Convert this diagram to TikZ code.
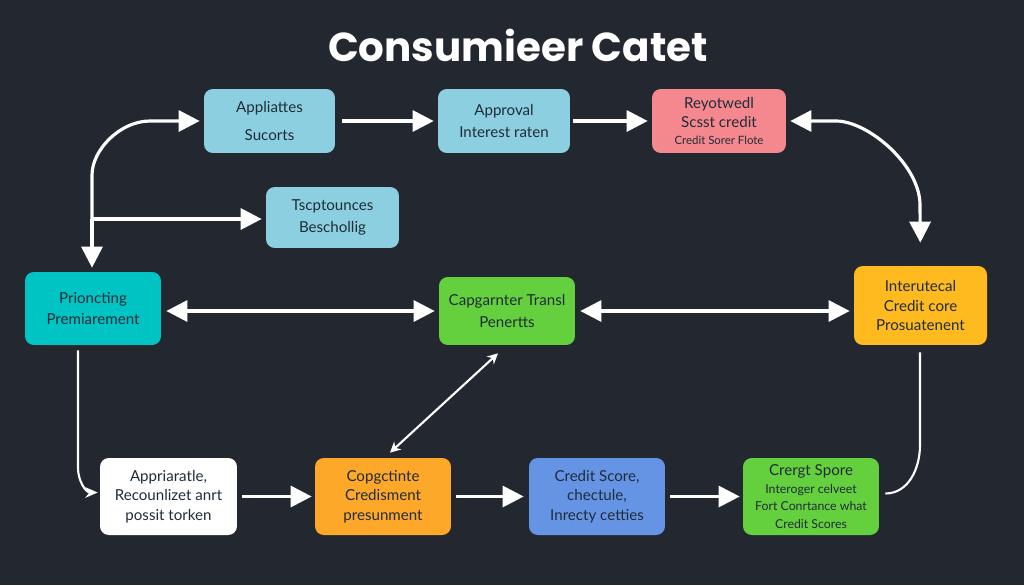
\documentclass[tikz,border=0pt]{standalone}
\usepackage{fontspec}
\setmainfont{Lato}
\newfontfamily\titlefont{Poppins}
\usepackage{tikz}
\usetikzlibrary{arrows.meta,calc}
\definecolor{bgdark}{RGB}{35,39,47}
\definecolor{skyblue}{RGB}{140,207,224}
\definecolor{rosered}{RGB}{245,136,143}
\definecolor{tealbox}{RGB}{0,195,196}
\definecolor{limebox}{RGB}{100,208,62}
\definecolor{amberbox}{RGB}{254,186,30}
\definecolor{orangebox}{RGB}{254,168,42}
\definecolor{bluebox}{RGB}{101,148,228}
\definecolor{inkdark}{RGB}{32,44,56}

\begin{document}
\begin{tikzpicture}[x=0.02cm,y=-0.02cm,
  box/.style={rounded corners=5pt, align=center, text=inkdark, minimum width=2.7cm, minimum height=1.3cm, font=\fontsize{8.6}{11}\selectfont},
  big/.style={draw=white, line width=1.8pt, -{Triangle[length=12pt,width=12pt]}},
  bigboth/.style={draw=white, line width=1.8pt, {Triangle[length=12pt,width=12pt]}-{Triangle[length=12pt,width=12pt]}},
  thin/.style={draw=white, line width=1.2pt}]
\fill[bgdark] (0,0) rectangle (1024,585);
\node[text=white, font=\titlefont\bfseries\fontsize{23}{28}\selectfont] (title) at (518,45) {Consumieer Catet};
% top row
\node[box, fill=skyblue, minimum width=2.62cm, minimum height=1.28cm] (appl) at (269.5,121) {Appliattes\\[5pt]Sucorts};
\node[box, fill=skyblue, minimum width=2.64cm, minimum height=1.28cm] (appr) at (504,121) {Approval\\[1pt]Interest raten};
\node[box, fill=rosered, minimum width=2.68cm, minimum height=1.28cm] (reyo) at (719,121) {Reyotwedl\\Scsst credit\\[-1pt]{\fontsize{6.5}{7}\selectfont Credit Sorer Flote}};
\node[box, fill=skyblue, minimum width=2.66cm, minimum height=1.22cm] (tscp) at (332.5,217.5) {Tscptounces\\[1pt]Beschollig};
% middle row
\node[box, fill=tealbox, minimum width=2.72cm, minimum height=1.46cm] (prio) at (93,308.5) {Prioncting\\[1pt]Premiarement};
\node[box, fill=limebox, minimum width=2.72cm, minimum height=1.36cm] (capg) at (507,311) {Capgarnter Transl\\[1pt]Penertts};
\node[box, fill=amberbox, minimum width=2.66cm, minimum height=1.58cm] (inte) at (920.5,305.5) {Interutecal\\Credit core\\Prosuatenent};
% bottom row
\node[box, fill=white, minimum width=2.74cm, minimum height=1.54cm] (appa) at (168.5,496.5) {Appriaratle,\\Recounlizet anrt\\possit torken};
\node[box, fill=orangebox, minimum width=2.72cm, minimum height=1.54cm] (copg) at (383,496.5) {Copgctinte\\Credisment\\presunment};
\node[box, fill=bluebox, minimum width=2.72cm, minimum height=1.54cm] (cred) at (597,496.5) {Credit Score,\\chectule,\\Inrecty cetties};
\node[box, fill=limebox, minimum width=2.72cm, minimum height=1.54cm] (crer) at (811,496.5) {Crergt Spore\\[-1pt]{\fontsize{7}{8}\selectfont Interoger celveet}\\[-1pt]{\fontsize{7}{8}\selectfont Fort Conrtance what}\\[-1pt]{\fontsize{7}{8}\selectfont Credit Scores}};
% arrows
\draw[big, shorten <=0.14cm, shorten >=0.08cm] (appl) -- (appr);
\draw[big, shorten <=0.06cm, shorten >=0.08cm] (appr) -- (reyo);
\coordinate (junc) at (92,219);
\draw[big, shorten >=0.08cm] (junc) -- (92,175) .. controls (92,150) and (120,121) .. (150,121) -- (appl.west);
\draw[big, shorten >=0.08cm] (junc) -- (tscp.west |- junc);
\draw[big, shorten >=0.08cm] (junc) -- (junc |- prio.north);
\draw[bigboth, shorten <=0.08cm, shorten >=0.46cm] (reyo.east) -- (836,121) .. controls (868,121) and (920,165) .. (920,205) -- (inte.north);
\draw[bigboth, shorten <=0.1cm, shorten >=0.08cm] (prio.east |- capg) -- (capg.west);
\draw[bigboth, shorten <=0.1cm, shorten >=0.08cm] (capg.east) -- (inte.west |- capg);
\draw[thin, {Stealth[length=6pt,width=6pt]}-{Stealth[length=6pt,width=6pt]}] ($(capg.south)+(-9,8)$) -- ($(copg.north)+(7,-5)$);
\draw[thin, -{Stealth[length=7pt,width=6pt]}] ($(prio.south)+(-15,5)$) -- (78,468) to[out=-90,in=180] ($(appa.west)+(-2,-4)$);
\draw[big, shorten <=0.1cm, shorten >=0.06cm] (appa) -- (copg);
\draw[big, shorten <=0.1cm, shorten >=0.1cm] (copg) -- (cred);
\draw[big, shorten <=0.1cm, shorten >=0.06cm] (cred) -- (crer);
\draw[thin] ($(inte.south)+(-0.5,7)$) -- (920,445) to[out=-90,in=0] ($(crer.east)+(6,-3)$);
\end{tikzpicture}
\end{document}
